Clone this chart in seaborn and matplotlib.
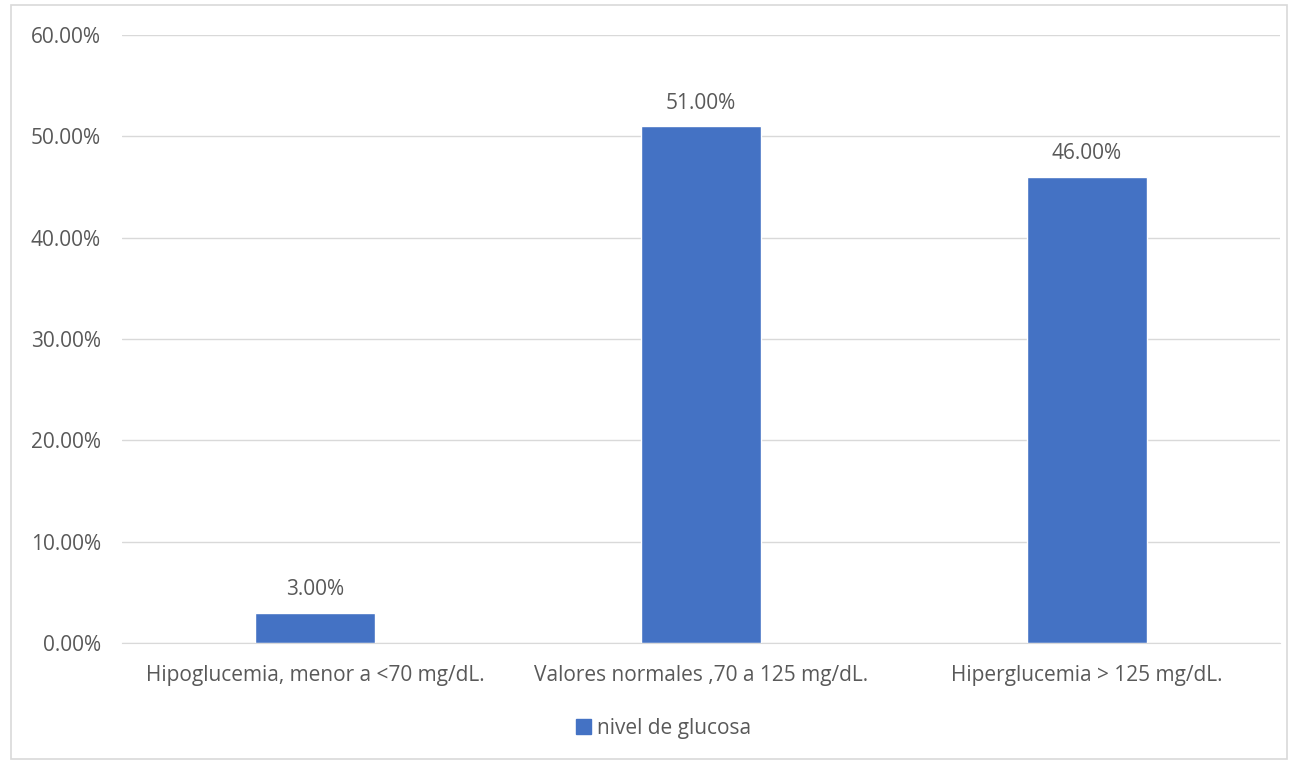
import pandas as pd
import matplotlib.pyplot as plt
import seaborn as sns
from matplotlib.patches import Rectangle
from matplotlib.ticker import PercentFormatter

# Data
categories = ['Hipoglucemia, menor a <70 mg/dL.',
              'Valores normales ,70 a 125 mg/dL.',
              'Hiperglucemia > 125 mg/dL.']
values = [3.00, 51.00, 46.00]
series_name = 'nivel de glucosa'

df = pd.DataFrame({'categoria': categories, 'pct': values, 'serie': series_name})

sns.set_style('white')
plt.rcParams['font.family'] = ['Open Sans', 'DejaVu Sans']
text_color = '#595959'
fs = 15

fig = plt.figure(figsize=(12.89, 7.61), dpi=100)
ax = fig.add_axes([0.0946, 0.155, 0.8984, 0.799])

sns.barplot(data=df, x='categoria', y='pct', hue='serie', palette=['#4472C4'],
            width=0.31, ax=ax, legend=False, saturation=1)

ax.set_ylim(0, 60)
ax.set_yticks([0, 10, 20, 30, 40, 50, 60])
ax.yaxis.set_major_formatter(PercentFormatter(decimals=2))
ax.grid(axis='y', color='#D9D9D9', linewidth=1)
ax.set_axisbelow(True)
for s in ['top', 'right', 'left']:
    ax.spines[s].set_visible(False)
ax.spines['bottom'].set_color('#D9D9D9')
ax.tick_params(axis='both', length=0, labelsize=fs, colors=text_color)
ax.tick_params(axis='y', pad=15)
ax.tick_params(axis='x', pad=16)
ax.set_xlabel('')
ax.set_ylabel('')

for c in ax.containers:
    ax.bar_label(c, labels=[f'{v:.2f}%' for v in values], padding=9,
                 fontsize=fs, color=text_color)

handle = Rectangle((0, 0), 1, 1, color='#4472C4')
fig.legend([handle], [series_name], loc='center', bbox_to_anchor=(0.515, 0.043),
           frameon=False, fontsize=fs, labelcolor=text_color,
           handlelength=0.7, handleheight=0.7, handletextpad=0.3)

# outer chart border
fig.patches.append(Rectangle((11 / 1289, 0.002), 1 - 13 / 1289, 1 - 7 / 761,
                             transform=fig.transFigure, fill=False,
                             edgecolor='#D9D9D9', linewidth=1.2))

fig.savefig('out.png', dpi=100)
